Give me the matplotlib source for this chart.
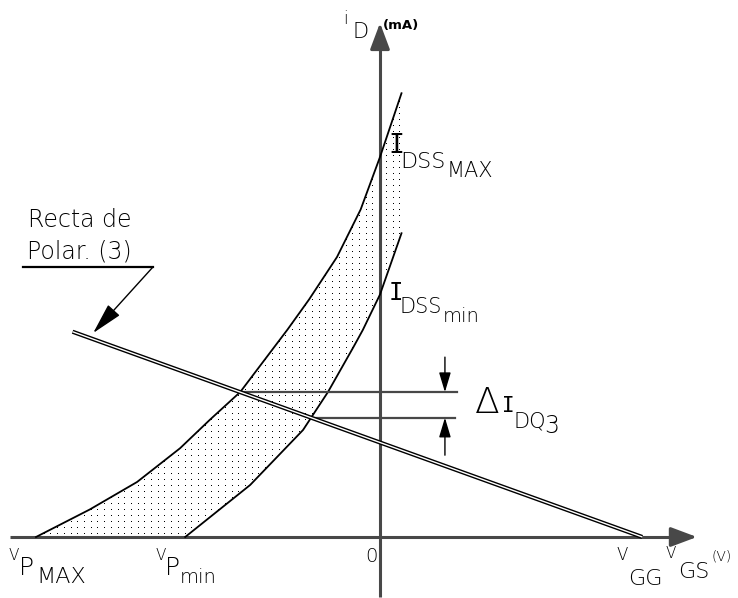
import numpy as np
import matplotlib.pyplot as plt
from matplotlib.patches import Polygon
import matplotlib.patheffects as pe

# Характеристики передачи JFET (разброс параметров) и прямая смещения
vp_max = -8.0      # V
vp_min = -4.53     # V
idss_max = 15.2    # mA
idss_min = 9.7     # mA
v_gg = 6.1         # V
i_bias0 = 3.78     # mA, ток прямой смещения при VGS = 0
bias_v_start = -7.15

# Кривая с максимальными параметрами (VP_MAX, IDSS_MAX)
upper_v = [vp_max, -6.75, -5.65, -4.65, -3.95, -3.25, -2.15, -1.65, -1.0, -0.45, 0.0, 0.5]
upper_i = [0.0, 1.1, 2.2, 3.55, 4.7, 5.8, 8.3, 9.5, 11.2, 13.1, idss_max, 17.75]

# Кривая с минимальными параметрами (VP_min, IDSS_min)
lower_v = [vp_min, -3.02, -1.79, -1.21, -0.63, -0.40, 0.0, 0.5]
lower_i = [0.0, 2.08, 4.28, 5.8, 7.56, 8.28, idss_min, 12.15]

AX_COLOR = "#484848"
FONT = ["DejaVu Sans"]


def bias(v):
    return i_bias0 * (1 - np.asarray(v) / v_gg)


def cross(cv, ci):
    # точка пересечения кривой с прямой смещения
    vv = np.linspace(cv[0], cv[-1], 4000)
    d = np.interp(vv, cv, ci) - bias(vv)
    k = np.argmax(d > 0)
    return vv[k], float(bias(vv[k]))


def arrow(ax, start, tip, lw=1.0, color="black", head="-|>", scale=14, **kw):
    ax.annotate("", xy=tip, xytext=start,
                arrowprops=dict(arrowstyle=head, lw=lw, color=color,
                                mutation_scale=scale, shrinkA=0, shrinkB=0, **kw))


def put(ax, v, i, s, size, **kw):
    kw.setdefault("family", FONT)
    kw.setdefault("fontweight", "light")
    ax.text(v, i, s, fontsize=size, ha="left", va="baseline", **kw)


fig = plt.figure(figsize=(7.38, 5.98), dpi=100)
ax = fig.add_axes([0, 0, 1, 1])
ax.set_xlim(-380 / 43, 358 / 43)
ax.set_ylim(-61 / 25, 537 / 25)
ax.axis("off")

# область разброса: сетка точек, обрезанная по контуру между кривыми
region = list(zip(upper_v, upper_i)) + list(zip(lower_v[::-1], lower_i[::-1]))
zone = Polygon(region, closed=True, fill=False, edgecolor="none", linewidth=0)
ax.add_patch(zone)
gx, gy = np.meshgrid(np.arange(-8.6, 1.0, 0.156), np.arange(0.12, 18.5, 0.24))
dots, = ax.plot(gx.ravel(), gy.ravel(), ",", color="black", zorder=1)
dots.set_clip_path(zone)

# оси
ax.plot([-8.6, 7.0], [0, 0], color=AX_COLOR, lw=2.2, zorder=3, solid_capstyle="butt")
arrow(ax, (6.9, 0), (7.37, 0), lw=2.2, color=AX_COLOR, scale=20,
      head="-|>,head_length=0.8,head_width=0.3")
ax.plot([0, 0], [-2.4, 20.0], color=AX_COLOR, lw=2.2, zorder=3, solid_capstyle="butt")
arrow(ax, (0, 19.9), (0, 20.56), lw=2.2, color=AX_COLOR, scale=20,
      head="-|>,head_length=0.8,head_width=0.3")

# кривые передачи
ax.plot(upper_v, upper_i, color="black", lw=1.3, zorder=4)
ax.plot(lower_v, lower_i, color="black", lw=1.3, zorder=4)

# прямая смещения (двойная линия)
bv = np.array([bias_v_start, v_gg])
ax.plot(bv, bias(bv), color="black", lw=3.0, zorder=5, solid_capstyle="butt",
        path_effects=[pe.Stroke(linewidth=3.0, foreground="black"),
                      pe.Stroke(linewidth=1.0, foreground="white")])

# точки покоя и ΔIDQ
v_hi, i_hi = cross(upper_v, upper_i)
v_lo, i_lo = cross(lower_v, lower_i)
ax.plot([v_hi, 1.79], [i_hi, i_hi], color=AX_COLOR, lw=1.6, zorder=4)
ax.plot([v_lo, 1.75], [i_lo, i_lo], color=AX_COLOR, lw=1.6, zorder=4)
arrow(ax, (1.51, i_hi + 1.4), (1.51, i_hi), lw=1.0, scale=12,
      head="-|>,head_length=1.0,head_width=0.3")
arrow(ax, (1.51, i_lo - 1.5), (1.51, i_lo), lw=1.0, scale=12,
      head="-|>,head_length=1.0,head_width=0.3")

# выноска "Recta de Polar. (3)"
ax.plot([-8.3, -5.28], [10.8, 10.8], color="black", lw=1.6)
arrow(ax, (-5.28, 10.8), (-6.67, 8.16), lw=1.0, scale=14,
      head="-|>,head_length=1.4,head_width=0.35")

# подписи
put(ax, -0.86, 20.5, "i", 12)
put(ax, -0.65, 19.96, "D", 15)
put(ax, 0.07, 20.3, "(mA)", 9.5, fontweight="bold")

put(ax, 0.19, 15.36, "I", 19, family=["DejaVu Sans Mono"])
put(ax, 0.47, 14.76, "DSS", 16)
put(ax, 1.55, 14.4, "MAX", 15)

put(ax, 0.19, 9.48, "I", 17, family=["DejaVu Sans Mono"])
put(ax, 0.45, 8.96, "DSS", 15)
put(ax, 1.47, 8.6, "min", 14)

put(ax, 2.21, 4.96, "Δ", 26)
put(ax, 2.84, 5.0, "I", 15, family=["DejaVu Sans Mono"])
put(ax, 3.1, 4.4, "DQ", 15)
put(ax, 3.82, 4.16, "3", 17)

put(ax, -8.19, 12.4, "Recta de", 17)
put(ax, -8.21, 11.16, "Polar. (3)", 17)

put(ax, -8.63, -0.92, "V", 11)
put(ax, -8.40, -1.52, "P", 18)
put(ax, -8.0, -1.84, "MAX", 16)

put(ax, -5.23, -0.92, "V", 11)
put(ax, -5.0, -1.52, "P", 18)
put(ax, -4.66, -1.84, "min", 14)

put(ax, -0.35, -1.0, "0", 14)

put(ax, 5.49, -0.92, "V", 12)
put(ax, 5.77, -1.92, "GG", 16)

put(ax, 6.65, -0.84, "V", 11)
put(ax, 6.93, -1.64, "GS", 16)
put(ax, 7.70, -0.92, "(V)", 10)

fig.savefig("out.png", dpi=100)
